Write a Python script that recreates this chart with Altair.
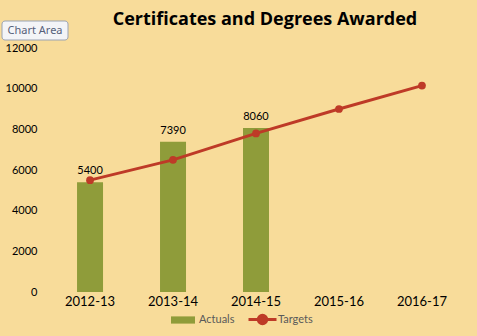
import altair as alt
import pandas as pd

years = ["2012-13", "2013-14", "2014-15", "2015-16", "2016-17"]
actuals = [5400, 7390, 8060, None, None]
targets = [5500, 6500, 7800, 9000, 10150]
y_ticks = [0, 2000, 4000, 6000, 8000, 10000, 12000]
title_text = "Certificates and Degrees Awarded"

BG = "#F8DC9A"
OLIVE = "#8F9C3A"
RED = "#BE3A27"
FONT = "Lato"

df = pd.DataFrame({"Year": years, "Actuals": actuals, "Targets": targets})

x = alt.X(
    "Year:N", sort=years, title=None, bandPosition=0.5,
    scale=alt.Scale(paddingInner=0.687, paddingOuter=0.35),
    axis=alt.Axis(labelAngle=0, ticks=False, domain=False, grid=False,
                  labelFontSize=13, labelColor="black", labelPadding=3, labelFont=FONT),
)
yscale = alt.Scale(domain=[0, 12000], nice=False)
yaxis = alt.Axis(values=y_ticks, format="d", grid=False, domain=False, ticks=False,
                 labelPadding=11, labelFontSize=11, labelColor="black", labelFont=FONT)

base = alt.Chart(df)

bars = base.transform_filter("datum.Actuals != null").transform_calculate(s="'Actuals'").mark_bar(
    width=26).encode(
    x=x,
    y=alt.Y("Actuals:Q", scale=yscale, axis=yaxis, title=None),
    fill=alt.Fill("s:N", scale=alt.Scale(domain=["Actuals"], range=[OLIVE]),
                  legend=alt.Legend(title=None, orient="none", legendX=123, legendY=260,
                                    padding=0, symbolType="M-1,-0.3L1,-0.3L1,0.3L-1,0.3Z",
                                    symbolSize=576, symbolStrokeWidth=0,
                                    labelFont=FONT, labelFontSize=11, labelColor="#595959",
                                    labelOffset=4)),
)

labels = base.transform_filter("datum.Actuals != null").mark_text(
    dy=-11, fontSize=11, font=FONT, color="black").encode(
    x=x, y=alt.Y("Actuals:Q", scale=yscale), text=alt.Text("Actuals:Q", format="d"))

line = base.transform_calculate(t="'Targets'").mark_line(strokeWidth=3).encode(
    x=x,
    y=alt.Y("Targets:Q", scale=yscale),
    stroke=alt.Stroke("t:N", scale=alt.Scale(domain=["Targets"], range=[RED]),
                      legend=alt.Legend(title=None, orient="none", legendX=199, legendY=256,
                                        padding=0,
                                        symbolType="M-1,0L1,0M0.3,0A0.3,0.3,0,1,1,-0.3,0A0.3,0.3,0,1,1,0.3,0Z",
                                        symbolSize=784, symbolStrokeWidth=3, symbolFillColor=RED,
                                        labelFont=FONT, labelFontSize=11, labelColor="#595959",
                                        labelOffset=0)),
)

pts = base.mark_circle(size=60, opacity=1, color=RED).encode(
    x=x, y=alt.Y("Targets:Q", scale=yscale))

title_df = pd.DataFrame({"t": [title_text]})
title = alt.Chart(title_df).mark_text(fontSize=18, font="Open Sans", fontWeight="bold",
                                      color="black", baseline="middle").encode(
    x=alt.value(217), y=alt.value(-28), text="t:N")

tip_df = pd.DataFrame({"t": ["Chart Area"]})
tip_box = alt.Chart(tip_df).mark_rect(fill="#F3F4F7", stroke="#9AA3B3", strokeWidth=1,
                                       cornerRadius=3).encode(
    x=alt.value(-46), x2=alt.value(20), y=alt.value(-27), y2=alt.value(-8))
tip_text = alt.Chart(tip_df).mark_text(fontSize=11, font="Noto Sans", color="#56607A").encode(
    x=alt.value(-13), y=alt.value(-17), text="t:N")

chart = alt.layer(bars, labels, line, pts, title, tip_box, tip_text).properties(
    width=416, height=244,
    background=BG,
    padding={"left": 48, "top": 48, "right": 13, "bottom": 44},
    autosize=alt.AutoSizeParams(type="none"),
).configure_view(stroke=None)

chart.save("out.html", embed_options={"renderer": "svg", "actions": False})
